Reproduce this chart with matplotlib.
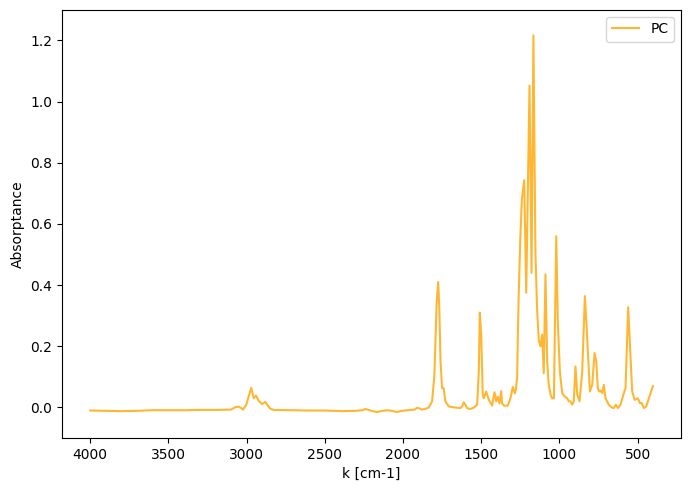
import numpy as np
import matplotlib
matplotlib.use("Agg")
import matplotlib.pyplot as plt

# Espectro IR del PC
wavenumber = [
    4000, 3900, 3800, 3700, 3600, 3500, 3400, 3300, 3200, 3100,
    3072, 3051, 3035, 3023, 3002, 2987, 2970, 2955, 2940, 2923,
    2901, 2880, 2863, 2848, 2827, 2700, 2600, 2500, 2400, 2300,
    2260, 2240, 2200, 2166, 2130, 2102, 2070, 2038, 2010, 1985,
    1950, 1925, 1910, 1890, 1878, 1855, 1835, 1814, 1800, 1793,
    1785, 1775, 1768, 1760, 1750, 1740, 1729, 1707, 1670, 1633,
    1620, 1612, 1600, 1590, 1569, 1545, 1526, 1515, 1509, 1500,
    1490, 1484, 1468, 1451, 1430, 1415, 1404, 1394, 1383, 1372,
    1366, 1355, 1330, 1313, 1298, 1285, 1278, 1270, 1266, 1260,
    1250, 1240, 1225, 1212, 1191, 1178, 1166, 1153, 1142, 1132,
    1121, 1110, 1100, 1089, 1078, 1068, 1055, 1046, 1035, 1020,
    1010, 997, 982, 967, 950, 939, 929, 918, 908, 897,
    886, 871, 854, 837, 826, 815, 805, 790, 775, 764,
    754, 745, 737, 726, 716, 705, 684, 665, 652, 639,
    626, 609, 588, 577, 560, 545, 534, 519, 498, 485,
    474, 460, 445, 428, 417, 402,
]
absorptance = [
    -0.010, -0.011, -0.012, -0.011, -0.009, -0.009, -0.009, -0.008, -0.008, -0.007,
    0.001, 0.003, -0.002, -0.007, 0.009, 0.036, 0.064, 0.030, 0.039, 0.022,
    0.011, 0.018, 0.005, -0.004, -0.008, -0.009, -0.010, -0.010, -0.012, -0.011,
    -0.009, -0.005, -0.011, -0.015, -0.011, -0.009, -0.011, -0.015, -0.011, -0.010,
    -0.008, -0.007, -0.001, -0.004, -0.007, -0.004, 0.000, 0.020, 0.100, 0.205,
    0.340, 0.410, 0.330, 0.150, 0.063, 0.063, 0.020, 0.003, 0.000, -0.002,
    0.005, 0.017, 0.008, -0.002, -0.005, 0.000, 0.009, 0.120, 0.310, 0.240,
    0.042, 0.030, 0.052, 0.025, 0.006, 0.050, 0.020, 0.035, 0.013, 0.053,
    0.013, 0.006, 0.006, 0.030, 0.067, 0.046, 0.060, 0.100, 0.227, 0.370,
    0.550, 0.680, 0.743, 0.375, 1.052, 0.440, 1.216, 0.500, 0.315, 0.220,
    0.200, 0.238, 0.112, 0.435, 0.150, 0.074, 0.040, 0.030, 0.030, 0.560,
    0.280, 0.118, 0.047, 0.036, 0.030, 0.020, 0.020, 0.009, 0.020, 0.134,
    0.042, 0.020, 0.118, 0.364, 0.266, 0.150, 0.052, 0.074, 0.178, 0.150,
    0.063, 0.052, 0.055, 0.047, 0.074, 0.030, 0.009, 0.000, -0.002, 0.009,
    -0.002, 0.009, 0.047, 0.063, 0.328, 0.162, 0.052, 0.025, 0.030, 0.014,
    0.015, -0.002, 0.003, 0.030, 0.047, 0.070,
]

k = np.array(wavenumber)
A = np.array(absorptance)

fig, ax = plt.subplots(figsize=(6.9, 4.9), dpi=100)
ax.plot(k, A, color="orange", alpha=0.8, lw=1.5, label="PC")
ax.set_ylim(-0.1, 1.3)
ax.invert_xaxis()
ax.set_xlabel("k [cm-1]")
ax.set_ylabel("Absorptance")
ax.legend(loc="upper right")

fig.subplots_adjust(left=0.09, right=0.987, top=0.98, bottom=0.106)
plt.savefig("out.png")
